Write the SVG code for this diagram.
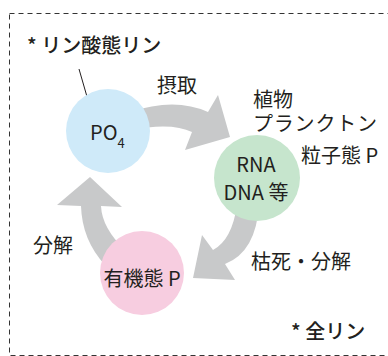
<svg xmlns="http://www.w3.org/2000/svg" width="388" height="356" viewBox="0 0 388 356">
<style>
text{font-family:"Noto Sans CJK JP","Noto Sans",sans-serif;fill:#231f20;font-size:20px}
.b{font-weight:500}
.arrow{fill:#c8c9ca}
.border{fill:none;stroke:#333;stroke-width:1;stroke-dasharray:5 4}
</style>
<rect class="border" x="9.5" y="13.5" width="390" height="342"/>
<g id="connectors">
<path class="arrow" d="M130,112 Q175,97 208,112 L218,95 L230,137 L185,150 L192,132 Q172,122 130,130 Z"/>
<path class="arrow" d="M237,205 Q232,240 213,250 L202,235 L193,278 L235,280 L225,264 Q256,252 259,205 Z"/>
<path class="arrow" d="M105,265 Q82,240 81,206 L57,205 L90,177 L122,207 L101,206 Q102,228 125,250 Z"/>
<line x1="79" y1="69" x2="92" y2="114" stroke="#231f20" stroke-width="1"/>
</g>
<g id="po4">
<circle cx="108" cy="131" r="42" fill="#cfeaf9"/>
<text x="90" y="140">PO<tspan font-size="13" dy="8">4</tspan></text>
</g>
<g id="plankton">
<circle cx="257" cy="178" r="43" fill="#c6e5cd"/>
<text x="256" y="172" text-anchor="middle">RNA</text>
<text x="256" y="200" text-anchor="middle">DNA 等</text>
</g>
<g id="organic">
<circle cx="142" cy="273" r="42" fill="#f7cde0"/>
<text x="142" y="286" text-anchor="middle">有機態 P</text>
</g>
<g id="labels">
<text class="b" x="27" y="53">* リン酸態リン</text>
<text x="157" y="93">摂取</text>
<text x="253" y="107">植物</text>
<text x="253" y="130.5" textLength="124" lengthAdjust="spacing">プランクトン</text>
<text x="301" y="163">粒子態 P</text>
<text x="33" y="253">分解</text>
<text x="251" y="269">枯死・分解</text>
<text class="b" x="291" y="339">* 全リン</text>
</g>
</svg>
